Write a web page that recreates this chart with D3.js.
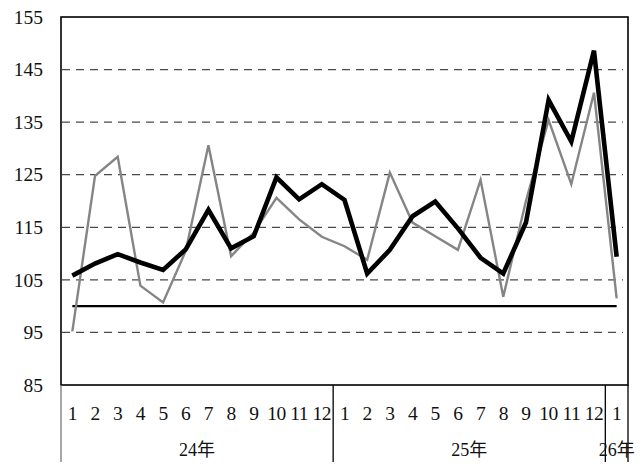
<!DOCTYPE html>
<html>
<head>
<meta charset="utf-8">
<script src="https://cdn.jsdelivr.net/npm/d3@7"></script>
<style>
body { margin: 0; background: #fff; }
text { font-family: "Liberation Serif", "Noto Sans CJK JP", serif; fill: #111; }
</style>
</head>
<body>
<div id="chart"></div>
<script>
var months = ["1","2","3","4","5","6","7","8","9","10","11","12","1","2","3","4","5","6","7","8","9","10","11","12","1"];
var years = [
	{ label: "24年", from: 0, to: 12 },
	{ label: "25年", from: 12, to: 24 },
	{ label: "26年", from: 24, to: 25 }
];
var thick = [105.8, 108.1, 109.9, 108.3, 106.9, 110.8, 118.3, 111.0, 113.3, 124.5, 120.3, 123.2,
	120.2, 106.2, 110.7, 117.1, 119.9, 114.8, 109.2, 106.2, 115.9, 139.2, 131.3, 148.6, 109.4];
var thin = [95.2, 124.8, 128.4, 103.9, 100.7, 110.5, 130.6, 109.5, 114.0, 120.6, 116.5, 113.2,
	111.4, 108.8, 125.4, 115.9, 113.3, 110.7, 124.0, 101.8, 120.0, 135.4, 123.2, 140.6, 101.5];
var baseValue = 100;
var yTicks = [85, 95, 105, 115, 125, 135, 145, 155];
var gridValues = [95, 105, 115, 125, 135, 145];

var width = 641, height = 466;
var plotL = 61, plotR = 628, plotT = 17, plotB = 385;

var svg = d3.select("#chart").append("svg")
	.attr("width", width)
	.attr("height", height);

var x = d3.scaleBand()
	.domain(d3.range(months.length))
	.range([plotL, plotR])
	.padding(0);
var bw = x.bandwidth();
function cx(i) { return x(i) + bw / 2; }

var y = d3.scaleLinear()
	.domain([85, 155])
	.range([plotB, plotT]);

// dashed grid
svg.selectAll("line.grid")
	.data(gridValues)
	.enter()
	.append("line")
	.attr("class", "grid")
	.attr("x1", plotL + 1)
	.attr("x2", plotR - 5)
	.attr("y1", function (d) { return y(d); })
	.attr("y2", function (d) { return y(d); })
	.style("stroke", "#4a4a4a")
	.style("stroke-width", 1.3)
	.style("stroke-dasharray", "8,6");

// y axis labels
var yAxis = d3.axisLeft(y)
	.tickValues(yTicks)
	.tickSize(0)
	.tickPadding(18)
	.tickFormat(d3.format("d"));
var gy = svg.append("g")
	.attr("transform", "translate(" + plotL + ",0)")
	.call(yAxis);
gy.select(".domain").remove();
gy.selectAll("text")
	.style("font-size", "19.5px")
	.style("font-family", "'Liberation Serif', serif")
	.attr("fill", "#111");

// plot frame
svg.append("rect")
	.attr("x", plotL)
	.attr("y", plotT)
	.attr("width", plotR - plotL)
	.attr("height", plotB - plotT)
	.style("fill", "none")
	.style("stroke", "#000")
	.style("stroke-width", 1.6);

// reference line at 100
svg.append("line")
	.attr("x1", cx(0))
	.attr("x2", cx(months.length - 1))
	.attr("y1", y(baseValue))
	.attr("y2", y(baseValue))
	.style("stroke", "#000")
	.style("stroke-width", 2.2);

var line = d3.line()
	.x(function (d, i) { return cx(i); })
	.y(function (d) { return y(d); });

svg.append("path")
	.datum(thin)
	.attr("d", line)
	.style("fill", "none")
	.style("stroke", "#858585")
	.style("stroke-width", 2.4)
	.style("stroke-linejoin", "miter");

svg.append("path")
	.datum(thick)
	.attr("d", line)
	.style("fill", "none")
	.style("stroke", "#000")
	.style("stroke-width", 4.6)
	.style("stroke-linejoin", "miter");

// month labels
svg.selectAll("text.month")
	.data(months)
	.enter()
	.append("text")
	.attr("class", "month")
	.attr("x", function (d, i) { return cx(i); })
	.attr("y", 413)
	.attr("dy", "0.35em")
	.attr("text-anchor", "middle")
	.style("font-size", "19.5px")
	.style("letter-spacing", "-0.5px")
	.text(function (d) { return d; });

// year separators
var seps = [0, 12, 24, 25];
svg.selectAll("line.sep")
	.data(seps)
	.enter()
	.append("line")
	.attr("class", "sep")
	.attr("x1", function (d) { return d < months.length ? x(d) : plotR; })
	.attr("x2", function (d) { return d < months.length ? x(d) : plotR; })
	.attr("y1", plotB)
	.attr("y2", 462)
	.style("stroke", function (d) { return d == 0 ? "#777" : "#000"; })
	.style("stroke-width", 1.3);

// year labels
svg.selectAll("text.year")
	.data(years)
	.enter()
	.append("text")
	.attr("class", "year")
	.attr("x", function (d) { return (x(d.from) + (d.to < months.length ? x(d.to) : plotR)) / 2; })
	.attr("y", 450)
	.attr("dy", "0.35em")
	.attr("text-anchor", "middle")
	.style("font-size", "18px")
	.text(function (d) { return d.label; });
</script>
</body>
</html>
